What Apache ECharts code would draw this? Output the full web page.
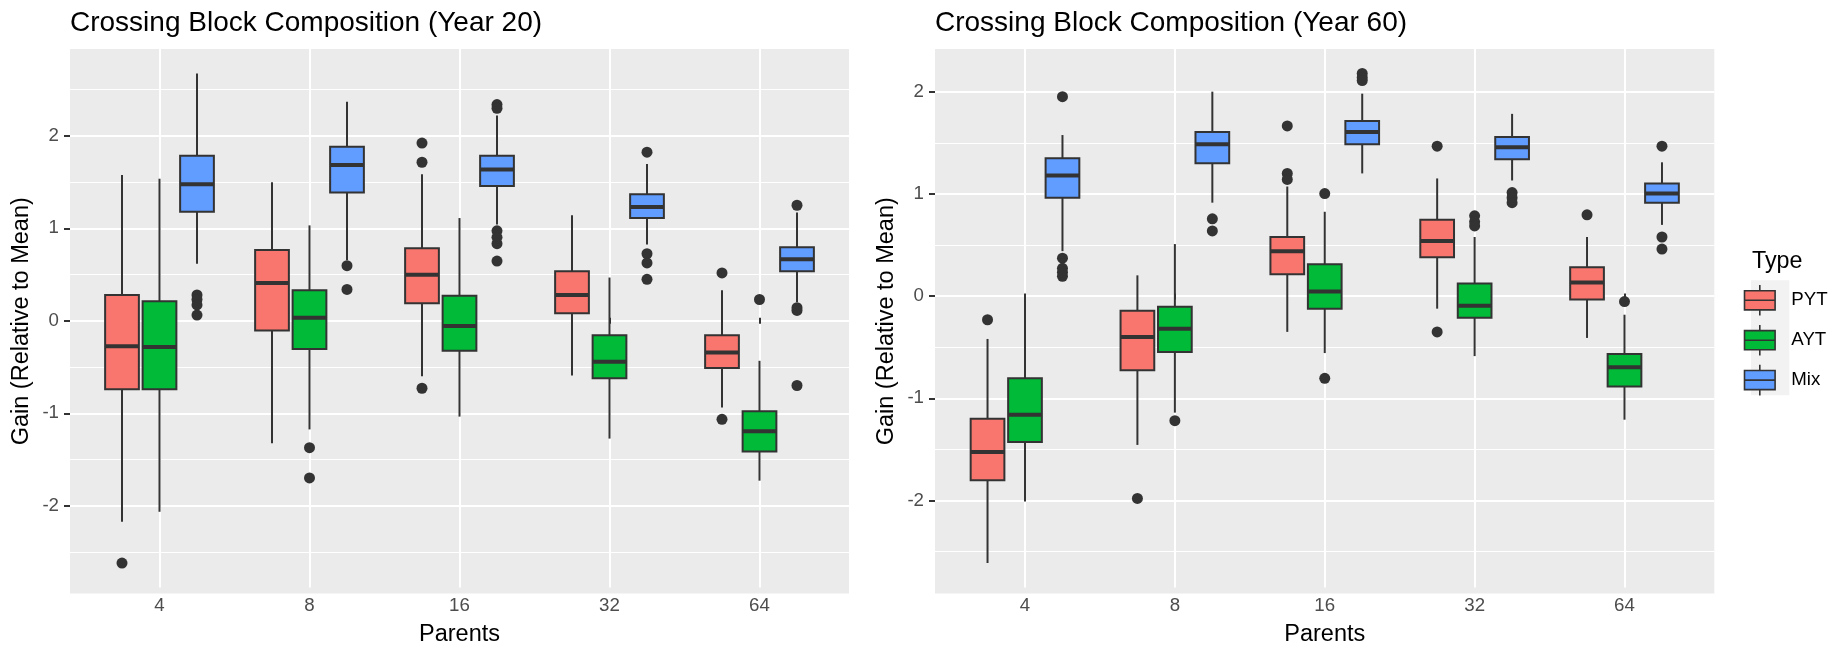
<!DOCTYPE html>
<html>
<head>
<meta charset="utf-8">
<script src="https://cdn.jsdelivr.net/npm/echarts@6/dist/echarts.min.js"></script>
<style>
html,body{margin:0;padding:0;background:#fff;}
#chart{width:1843px;height:652px;}
</style>
</head>
<body>
<div id="chart"></div>
<script>
// ---------- DATA ----------
const parents = ['4', '8', '16', '32', '64'];
const types = ['PYT', 'AYT', 'Mix'];

// [lower whisker, Q1, median, Q3, upper whisker] for each parent count
const y20_PYT = [[-2.23, -0.78, -0.31, 0.25, 1.56], [-1.37, -0.14, 0.38, 0.74, 1.48], [-0.64, 0.16, 0.47, 0.76, 1.57], [-0.63, 0.05, 0.25, 0.51, 1.12], [-0.98, -0.55, -0.38, -0.19, 0.30]];
const y20_AYT = [[-2.12, -0.78, -0.32, 0.18, 1.52], [-1.22, -0.34, 0.00, 0.30, 1.01], [-1.08, -0.36, -0.09, 0.24, 1.09], [-1.32, -0.66, -0.48, -0.19, 0.44], [-1.78, -1.46, -1.24, -1.02, -0.47]];
const y20_Mix = [[0.59, 1.16, 1.46, 1.77, 2.67], [0.63, 1.37, 1.67, 1.87, 2.36], [1.02, 1.44, 1.62, 1.77, 2.21], [0.80, 1.09, 1.21, 1.35, 1.68], [0.17, 0.51, 0.64, 0.77, 1.15]];
// outliers per parent count
const y20_PYT_out = [[-2.68], [], [1.91, 1.70, -0.77], [], [0.49, -1.11]];
const y20_AYT_out = [[], [-1.42, -1.75], [], [], [0.20]];
const y20_Mix_out = [[0.25, 0.20, 0.14, 0.03], [0.57, 0.31], [2.33, 2.29, 0.95, 0.88, 0.81, 0.62], [1.81, 0.70, 0.60, 0.42], [1.23, 0.11, 0.08, -0.74]];

const y60_PYT = [[-2.67, -1.85, -1.57, -1.24, -0.45], [-1.50, -0.76, -0.43, -0.17, 0.18], [-0.38, 0.19, 0.42, 0.56, 1.06], [-0.15, 0.36, 0.52, 0.73, 1.14], [-0.44, -0.06, 0.11, 0.26, 0.56]];
const y60_AYT = [[-2.06, -1.47, -1.20, -0.84, -0.01], [-1.18, -0.58, -0.35, -0.13, 0.49], [-0.59, -0.15, 0.02, 0.29, 0.81], [-0.62, -0.24, -0.12, 0.10, 0.56], [-1.25, -0.92, -0.73, -0.60, -0.21]];
const y60_Mix = [[0.42, 0.95, 1.17, 1.34, 1.57], [0.90, 1.29, 1.48, 1.60, 2.00], [1.19, 1.48, 1.60, 1.71, 1.98], [1.12, 1.33, 1.45, 1.55, 1.78], [0.68, 0.90, 0.99, 1.09, 1.30]];
const y60_PYT_out = [[-0.26], [-2.03], [1.66, 1.19, 1.13], [1.46, -0.38], [0.78]];
const y60_AYT_out = [[], [-1.26], [0.99, -0.84], [0.77, 0.71, 0.67], [-0.08]];
const y60_Mix_out = [[1.95, 0.35, 0.25, 0.21, 0.17], [0.74, 0.62], [2.18, 2.14, 2.11], [1.00, 0.95, 0.90], [1.46, 0.56, 0.44]];

const yTicks = [-2, -1, 0, 1, 2];

// ---------- STYLE ----------
const FONT = "'Liberation Sans', Arial, Helvetica, sans-serif";
const colors = {PYT: '#F8766D', AYT: '#00BA38', Mix: '#619CFF'};
const dodge = {PYT: -0.25, AYT: 0, Mix: 0.25};
const BOX_W = 0.225;
const LINE = '#333333';

function yRange(statsList, outList) {
  let lo = Infinity, hi = -Infinity;
  statsList.forEach(s => s.forEach(r => { lo = Math.min(lo, r[0]); hi = Math.max(hi, r[4]); }));
  outList.forEach(o => o.forEach(r => r.forEach(v => { lo = Math.min(lo, v); hi = Math.max(hi, v); })));
  const pad = (hi - lo) * 0.05;
  return [lo - pad, hi + pad];
}

const r20 = yRange([y20_PYT, y20_AYT, y20_Mix], [y20_PYT_out, y20_AYT_out, y20_Mix_out]);
const r60 = yRange([y60_PYT, y60_AYT, y60_Mix], [y60_PYT_out, y60_AYT_out, y60_Mix_out]);

function boxSeries(type, stats, axisIdx) {
  const off = dodge[type];
  return {
    type: 'custom', name: type,
    xAxisIndex: axisIdx, yAxisIndex: axisIdx,
    itemStyle: {color: colors[type]},
    encode: {x: 0, y: [1, 2, 3, 4, 5]},
    data: stats.map((s, i) => [i + 1].concat(s)),
    z: 3,
    renderItem: function (params, api) {
      const x = api.value(0) + off;
      const lo = api.coord([x, api.value(1)]);
      const q1 = api.coord([x, api.value(2)]);
      const md = api.coord([x, api.value(3)]);
      const q3 = api.coord([x, api.value(4)]);
      const hi = api.coord([x, api.value(5)]);
      const w = api.size([BOX_W, 0])[0];
      const cx = lo[0];
      return {
        type: 'group',
        children: [
          {type: 'line', shape: {x1: cx, y1: q3[1], x2: cx, y2: hi[1]}, style: {stroke: LINE, lineWidth: 2}},
          {type: 'line', shape: {x1: cx, y1: q1[1], x2: cx, y2: lo[1]}, style: {stroke: LINE, lineWidth: 2}},
          {type: 'rect', shape: {x: cx - w / 2, y: q3[1], width: w, height: q1[1] - q3[1]},
            style: {fill: colors[type], stroke: LINE, lineWidth: 2}},
          {type: 'line', shape: {x1: cx - w / 2, y1: md[1], x2: cx + w / 2, y2: md[1]}, style: {stroke: LINE, lineWidth: 4}}
        ]
      };
    }
  };
}

function outlierSeries(type, outs, axisIdx) {
  const pts = [];
  outs.forEach((arr, i) => arr.forEach(v => pts.push([i + 1 + dodge[type], v])));
  return {
    type: 'scatter', name: type + ' outliers',
    xAxisIndex: axisIdx, yAxisIndex: axisIdx,
    symbol: 'circle', symbolSize: 11, clip: false, z: 4,
    itemStyle: {color: LINE, opacity: 1},
    data: pts
  };
}

// grids: 0 = left panel bg, 1 = left inner (category centers), 2 = right panel bg, 3 = right inner
const PANEL_TOP = 49, PANEL_BOTTOM = 58.5;
const grids = [
  {left: 70, right: 994, top: PANEL_TOP, bottom: PANEL_BOTTOM, show: true, backgroundColor: '#EBEBEB', borderWidth: 0},
  {left: 159.5, right: 1083.5, top: PANEL_TOP, bottom: PANEL_BOTTOM},
  {left: 935, right: 128.7, top: PANEL_TOP, bottom: PANEL_BOTTOM, show: true, backgroundColor: '#EBEBEB', borderWidth: 0},
  {left: 1025, right: 218.5, top: PANEL_TOP, bottom: PANEL_BOTTOM}
];

function hiddenX(g) {
  return {type: 'value', gridIndex: g, min: 0, max: 1, show: false, splitLine: {show: false}};
}
function innerX(g) {
  return {
    type: 'value', gridIndex: g, min: 1, max: parents.length, interval: 1,
    axisLine: {show: false},
    axisTick: {show: true, length: 6, lineStyle: {color: LINE, width: 2}},
    axisLabel: {color: '#4D4D4D', fontSize: 18.7, fontFamily: FONT, margin: 9,
      formatter: v => parents[Math.round(v) - 1] || ''},
    splitLine: {show: true, lineStyle: {color: '#FFFFFF', width: 2}},
    name: 'Parents', nameLocation: 'middle', nameGap: 35.5,
    nameTextStyle: {color: '#000', fontSize: 23.5, fontFamily: FONT}
  };
}
function outerY(g, r) {
  return {
    type: 'value', gridIndex: g, min: r[0], max: r[1],
    axisLine: {show: false},
    axisTick: {show: true, length: 6, lineStyle: {color: LINE, width: 2}, customValues: yTicks},
    axisLabel: {color: '#4D4D4D', fontSize: 18.7, fontFamily: FONT, margin: 11, customValues: yTicks,
      formatter: v => (Math.abs(v - Math.round(v)) < 1e-9 ? String(Math.round(v)) : '')},
    splitLine: {show: true, lineStyle: {color: '#FFFFFF', width: 2}},
    minorTick: {show: false, splitNumber: 2},
    minorSplitLine: {show: true, lineStyle: {color: '#FFFFFF', width: 1.1}},
    name: 'Gain (Relative to Mean)', nameLocation: 'middle', nameGap: 36.5, nameRotate: 90,
    nameTextStyle: {color: '#000', fontSize: 23.5, fontFamily: FONT}
  };
}
function innerY(g, r) {
  return {type: 'value', gridIndex: g, min: r[0], max: r[1], show: false, splitLine: {show: false}};
}

const legendIcon = 'path://M0,15 L80,15 L80,65 L0,65 Z M0,40 L80,40 M40,0 L40,15 M40,65 L40,80';

const series = [
  boxSeries('PYT', y20_PYT, 1), boxSeries('AYT', y20_AYT, 1), boxSeries('Mix', y20_Mix, 1),
  outlierSeries('PYT', y20_PYT_out, 1), outlierSeries('AYT', y20_AYT_out, 1), outlierSeries('Mix', y20_Mix_out, 1),
  boxSeries('PYT', y60_PYT, 3), boxSeries('AYT', y60_AYT, 3), boxSeries('Mix', y60_Mix, 3),
  outlierSeries('PYT', y60_PYT_out, 3), outlierSeries('AYT', y60_AYT_out, 3), outlierSeries('Mix', y60_Mix_out, 3)
];

const option = {
  animation: false,
  backgroundColor: '#FFFFFF',
  textStyle: {fontFamily: FONT},
  title: [
    {text: 'Crossing Block Composition (Year 20)', left: 70, top: 9, padding: 0,
      textStyle: {fontSize: 28, fontWeight: 'normal', color: '#000', fontFamily: FONT}},
    {text: 'Crossing Block Composition (Year 60)', left: 935, top: 9, padding: 0,
      textStyle: {fontSize: 28, fontWeight: 'normal', color: '#000', fontFamily: FONT}},
    {text: 'Type', left: 1752, top: 250, padding: 0,
      textStyle: {fontSize: 23.3, fontWeight: 'normal', color: '#000', fontFamily: FONT}}
  ],
  graphic: [
    {type: 'rect', left: 1751, top: 280.3, shape: {width: 38.3, height: 115}, style: {fill: '#F2F2F2'}, z: 0}
  ],
  legend: {
    orient: 'vertical', left: 1743.7, top: 284.2, padding: 0,
    itemWidth: 53, itemHeight: 30.6, itemGap: 7.7, selectedMode: false,
    symbolKeepAspect: true,
    textStyle: {fontSize: 18.7, color: '#000', fontFamily: FONT},
    data: types.map(t => ({name: t, icon: legendIcon,
      itemStyle: {color: colors[t], borderColor: LINE, borderWidth: 1.6}}))
  },
  grid: grids,
  xAxis: [hiddenX(0), innerX(1), hiddenX(2), innerX(3)],
  yAxis: [outerY(0, r20), innerY(1, r20), outerY(2, r60), innerY(3, r60)],
  series: series
};

const chart = echarts.init(document.getElementById('chart'), null, {renderer: 'canvas'});
chart.setOption(option);
</script>
</body>
</html>
